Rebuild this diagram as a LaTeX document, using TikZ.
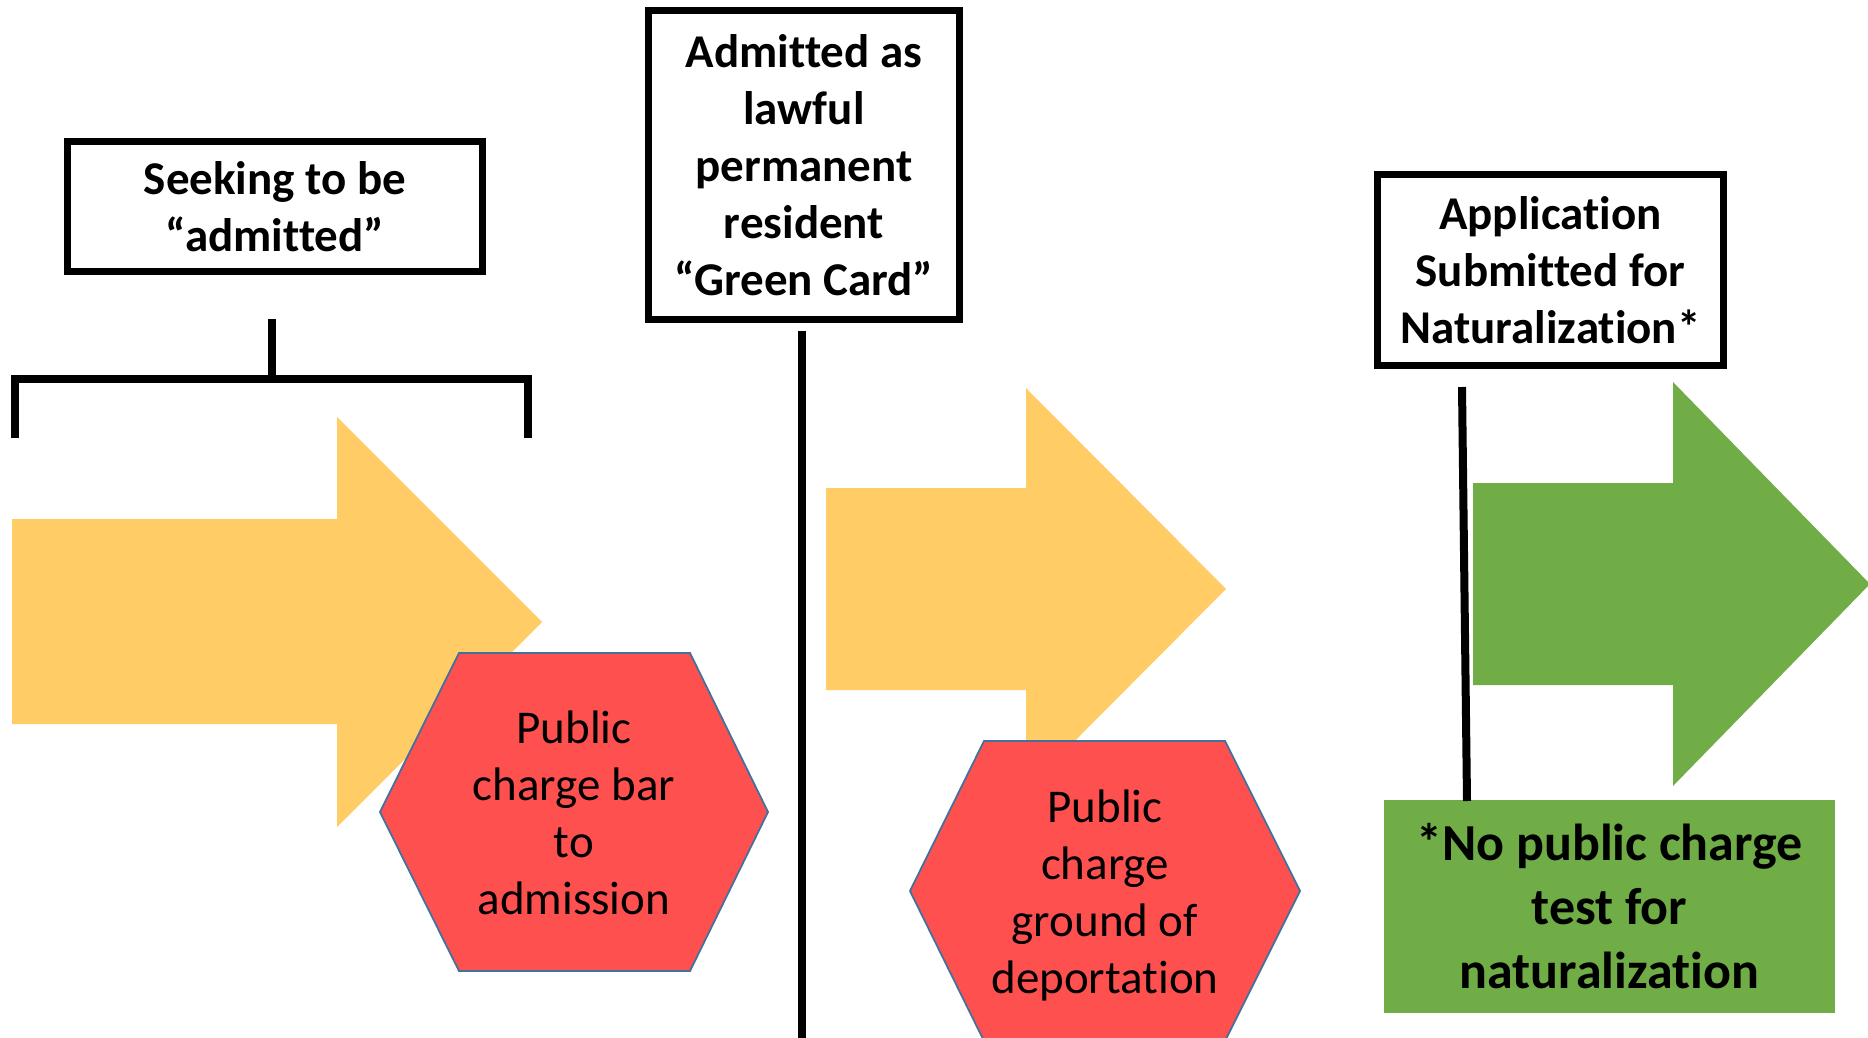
\documentclass[tikz,border=0pt]{standalone}
\usepackage{fontspec}
\setmainfont{Carlito}[Ligatures={TeX,NoCommon}]
\definecolor{arrowyellow}{HTML}{FFCC66}
\definecolor{hexred}{HTML}{FF5050}
\definecolor{hexedge}{HTML}{41719C}
\definecolor{okgreen}{HTML}{70AD47}
\begin{document}
\begin{tikzpicture}[x=0.5pt,y=-0.5pt,
  boxnode/.style={draw=black, line width=3.5pt, fill=white, align=center,
    font=\bfseries\fontsize{23.5}{28.5}\selectfont, inner sep=0pt},
  hextext/.style={align=center, font=\fontsize{23.5}{28.5}\selectfont, inner sep=0pt},
  hexshape/.style={fill=hexred, draw=hexedge, line width=0.9pt},
  blackline/.style={draw=black, line width=4pt},
  yarrow/.style={fill=arrowyellow},
  garrow/.style={fill=okgreen}]
\useasboundingbox (0,0) rectangle (1868,1038);

% ---- arrows ----
\path[yarrow] (12,519) -- (337,519) -- (337,417) -- (542,622) -- (337,827) -- (337,724) -- (12,724) -- cycle;
\path[yarrow] (826,488) -- (1026,488) -- (1026,388) -- (1226,589) -- (1026,790) -- (1026,690) -- (826,690) -- cycle;
\path[garrow] (1473,483) -- (1673,483) -- (1673,382) -- (1870,584) -- (1673,786) -- (1673,685) -- (1473,685) -- cycle;

% ---- hexagons ----
\draw[hexshape] (459,653) -- (690,653) -- (768,812) -- (690,971) -- (459,971) -- (380,812) -- cycle;
\node[hextext] (hex1) at (574,813) {Public\\charge bar\\to\\admission};
\draw[hexshape] (984,741) -- (1225,741) -- (1300,891) -- (1225,1041) -- (984,1041) -- (910,891) -- cycle;
\node[hextext] (hex2) at (1105,895) {Public\\charge\\ground of\\deportation};

% ---- boxes ----
\node[boxnode, minimum width=207.5pt, minimum height=65pt] (box1) at (275,206.5) {Seeking to be\\“admitted”};
\node[boxnode, minimum width=155.5pt, minimum height=154.5pt] (box2) at (804,165) {Admitted as\\lawful\\permanent\\resident\\“Green Card”};
\node[boxnode, minimum width=173pt, minimum height=95.5pt] (box3) at (1550.5,270) {Application\\Submitted for\\Naturalization*};
\node[fill=okgreen, minimum width=225.5pt, minimum height=106.5pt, inner sep=0pt, align=center,
  font=\bfseries\fontsize{26}{32}\selectfont] (note) at (1609.5,906.5) {*No public charge\\test for\\naturalization};

% ---- lines ----
\coordinate (s1) at (272,319);
\coordinate (s2) at (272,379);
\coordinate (bl) at (15,438);
\coordinate (br) at (528,438);
\draw[blackline] (s1) -- (s2);
\draw[blackline] (bl) -- (bl |- s2) -- (br |- s2) -- (br);

\coordinate (v2top) at (802,331);
\coordinate (v2bot) at (802,1040);
\draw[blackline, line width=3.6pt] (v2top) -- (v2bot);

\coordinate (v3top) at (1462,387);
\coordinate (v3bot) at (1467,801);
\draw[blackline] (v3top) -- (v3bot);
\end{tikzpicture}
\end{document}
